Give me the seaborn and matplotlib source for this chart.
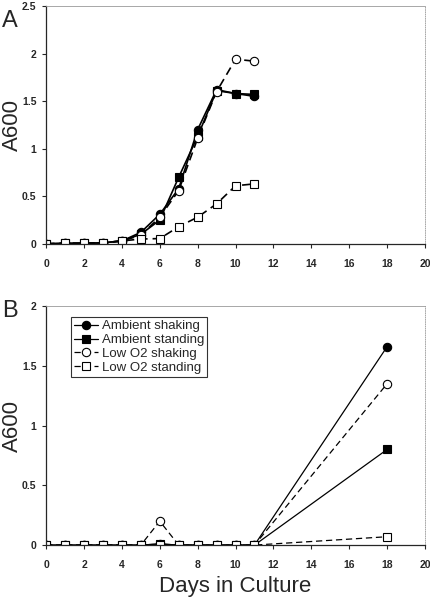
import pandas as pd
import matplotlib
matplotlib.use("Agg")
import matplotlib.pyplot as plt
import seaborn as sns

sns.set_style("ticks")
plt.rcParams['font.family'] = ['Liberation Sans', 'DejaVu Sans']

# panel A
days_a = [0, 1, 2, 3, 4, 5, 6, 7, 8, 9, 10, 11]
amb_shake_a = [0, 0.005, 0.005, 0.01, 0.03, 0.12, 0.31, 0.58, 1.2, 1.62, 1.58, 1.55]
amb_stand_a = [0, 0.005, 0.005, 0.01, 0.03, 0.10, 0.25, 0.70, 1.13, 1.61, 1.58, 1.57]
low_shake_a = [0, 0.005, 0.005, 0.01, 0.03, 0.09, 0.28, 0.56, 1.11, 1.60, 1.94, 1.92]
low_stand_a = [0, 0.005, 0.005, 0.01, 0.03, 0.05, 0.055, 0.18, 0.28, 0.42, 0.61, 0.63]

# panel B
days_b = [0, 1, 2, 3, 4, 5, 6, 7, 8, 9, 10, 11, 18]
amb_shake_b = [0, 0, 0, 0, 0, 0, 0.01, 0, 0, 0, 0, 0, 1.66]
amb_stand_b = [0, 0, 0, 0, 0, 0, 0.01, 0, 0, 0, 0, 0, 0.80]
low_shake_b = [0, 0, 0, 0, 0, 0, 0.20, 0, 0, 0, 0, 0, 1.35]
low_stand_b = [0, 0, 0, 0, 0, 0, 0, 0, 0, 0, 0, 0, 0.07]

labels = ['Ambient shaking', 'Ambient standing', 'Low O2 shaking', 'Low O2 standing']
styles = [dict(marker='o', linestyle='-', markerfacecolor='black'),
          dict(marker='s', linestyle='-', markerfacecolor='black'),
          dict(marker='o', linestyle=(0, (5, 3)), markerfacecolor='white'),
          dict(marker='s', linestyle=(0, (5, 3)), markerfacecolor='white')]

fig = plt.figure(figsize=(4.31, 5.99), dpi=100)
ax1 = fig.add_axes([0.107, 0.593, 0.879, 0.397])
ax2 = fig.add_axes([0.107, 0.090, 0.879, 0.399])


def draw(ax, days, series, ymax, yticks, lw):
    for vals, lab, st in zip(series, labels, styles):
        df = pd.DataFrame({'day': days, 'A600': vals})
        sns.lineplot(data=df, x='day', y='A600', ax=ax, color='black', lw=lw,
                     markersize=6, markeredgecolor='black', markeredgewidth=0.8,
                     label=lab, **st)
    ax.set_xlim(0, 20)
    ax.set_ylim(0, ymax)
    ax.set_xticks(range(0, 21, 2))
    ax.set_yticks(yticks)
    ax.set_yticklabels([('%g' % v) for v in yticks])
    ax.tick_params(labelsize=7.5, length=3, width=0.8, direction='out')
    ax.tick_params(axis='x', pad=8)
    ax.tick_params(axis='y', pad=4)
    for t in ax.get_xticklabels() + ax.get_yticklabels():
        t.set_fontweight('bold')
    ax.set_ylabel('A600', fontsize=16, va='center')
    ax.yaxis.set_label_coords(-0.09, 0.5)
    ax.set_xlabel('')
    for s in ['top', 'right']:
        ax.spines[s].set_color('#999999')
        ax.spines[s].set_linewidth(0.6)
    ax.spines['right'].set_linestyle(':')
    ax.spines['left'].set_linewidth(0.9)
    ax.spines['bottom'].set_linewidth(0.9)


draw(ax1, days_a, [amb_shake_a, amb_stand_a, low_shake_a, low_stand_a], 2.5,
     [0, 0.5, 1, 1.5, 2, 2.5], 1.2)
ax1.get_legend().remove()

draw(ax2, days_b, [amb_shake_b, amb_stand_b, low_shake_b, low_stand_b], 2,
     [0, 0.5, 1, 1.5, 2], 0.9)
ax2.set_xlabel('Days in Culture', fontsize=16, labelpad=4)
leg = ax2.legend(loc='upper left', bbox_to_anchor=(0.065, 0.955), fontsize=9.5,
                 frameon=True, fancybox=False, handlelength=1.8, handletextpad=0.3,
                 borderpad=0.25, labelspacing=0.12, borderaxespad=0)
leg.get_frame().set_edgecolor('black')
leg.get_frame().set_linewidth(0.8)

fig.text(0.005, 0.955, 'A', fontsize=17)
fig.text(0.005, 0.47, 'B', fontsize=17)

fig.savefig('out.png', dpi=100)
